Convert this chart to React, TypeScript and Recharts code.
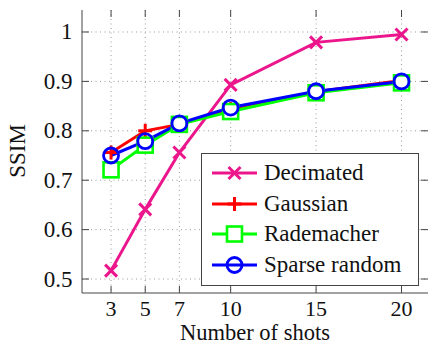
import React from 'react';
import { LineChart, Line, XAxis, YAxis, CartesianGrid } from 'recharts';

// values
const shots = [3, 5, 7, 10, 15, 20];
const decimated = [0.517, 0.641, 0.756, 0.893, 0.979, 0.995];
const gaussian = [0.756, 0.8, 0.813, 0.844, 0.879, 0.902];
const rademacher = [0.721, 0.771, 0.813, 0.839, 0.877, 0.897];
const sparseRandom = [0.75, 0.779, 0.815, 0.847, 0.88, 0.9];
const xTicks = [3, 5, 7, 10, 15, 20];
const yTicks = [0.5, 0.6, 0.7, 0.8, 0.9, 1];

const data = shots.map((s, i) => ({
  shots: s,
  decimated: decimated[i],
  gaussian: gaussian[i],
  rademacher: rademacher[i],
  sparse: sparseRandom[i],
}));

const FONT = '"Liberation Serif", "DejaVu Serif", serif';
const PLOT = { left: 82, right: 428, top: 10, bottom: 293 };
const TICK_LEN = 7;
const AXIS_COLOR = '#444';

const PINK = '#ec168c';
const RED = '#ff0000';
const GREEN = '#00ff00';
const BLUE = '#0000ff';

type MarkerKind = 'x' | 'plus' | 'square' | 'circle';

const Marker = ({ kind, cx, cy, color }: { kind: MarkerKind; cx: number; cy: number; color: string }) => {
  if (kind === 'x') {
    const r = 6;
    return (
      <g stroke={color} strokeWidth={3}>
        <line x1={cx - r} y1={cy - r} x2={cx + r} y2={cy + r} />
        <line x1={cx - r} y1={cy + r} x2={cx + r} y2={cy - r} />
      </g>
    );
  }
  if (kind === 'plus') {
    const r = 7;
    return (
      <g stroke={color} strokeWidth={3}>
        <line x1={cx - r} y1={cy} x2={cx + r} y2={cy} />
        <line x1={cx} y1={cy - r} x2={cx} y2={cy + r} />
      </g>
    );
  }
  if (kind === 'square') {
    const r = 7.5;
    return <rect x={cx - r} y={cy - r} width={2 * r} height={2 * r} fill="white" stroke={color} strokeWidth={2.6} />;
  }
  return <circle cx={cx} cy={cy} r={7.5} fill="none" stroke={color} strokeWidth={2.8} />;
};

const makeDot = (kind: MarkerKind, color: string) => (props: any) => {
  const { cx, cy, index } = props;
  if (cx == null || cy == null) return <g key={`${kind}-${index}`} />;
  return (
    <g key={`${kind}-${index}`}>
      <Marker kind={kind} cx={cx} cy={cy} color={color} />
    </g>
  );
};

const XTick = (props: any) => {
  const { x, payload } = props;
  return (
    <g>
      <line x1={x} x2={x} y1={PLOT.bottom} y2={PLOT.bottom - TICK_LEN} stroke={AXIS_COLOR} />
      <line x1={x} x2={x} y1={PLOT.top} y2={PLOT.top + TICK_LEN} stroke={AXIS_COLOR} />
      <text x={x} y={315.5} textAnchor="middle" fontFamily={FONT} fontSize={22} fill="#111">
        {payload.value}
      </text>
    </g>
  );
};

const YTick = (props: any) => {
  const { y, payload } = props;
  return (
    <g>
      <line x1={PLOT.left} x2={PLOT.left + TICK_LEN} y1={y} y2={y} stroke={AXIS_COLOR} />
      <line x1={PLOT.right} x2={PLOT.right - TICK_LEN} y1={y} y2={y} stroke={AXIS_COLOR} />
      <text x={PLOT.left - 9.5} y={y + 7.5} textAnchor="end" fontFamily={FONT} fontSize={23} fill="#111">
        {String(payload.value)}
      </text>
    </g>
  );
};

const series = [
  { key: 'decimated', name: 'Decimated', color: PINK, kind: 'x' as MarkerKind },
  { key: 'gaussian', name: 'Gaussian', color: RED, kind: 'plus' as MarkerKind },
  { key: 'rademacher', name: 'Rademacher', color: GREEN, kind: 'square' as MarkerKind },
  { key: 'sparse', name: 'Sparse random', color: BLUE, kind: 'circle' as MarkerKind },
];

const LegendBox = () => (
  <div
    style={{
      position: 'absolute',
      left: 201,
      top: 153,
      width: 218,
      height: 133,
      boxSizing: 'border-box',
      border: `1px solid ${AXIS_COLOR}`,
      background: 'white',
    }}
  >
    {series.map((s, i) => (
      <div
        key={s.key}
        style={{
          position: 'absolute',
          left: 0,
          top: 4 + i * 30.6,
          height: 30,
          display: 'flex',
          alignItems: 'center',
        }}
      >
        <svg width={60} height={30} style={{ display: 'block' }}>
          <line x1={10} x2={55} y1={15} y2={15} stroke={s.color} strokeWidth={3} />
          <Marker kind={s.kind} cx={32.5} cy={15} color={s.color} />
        </svg>
        <span
          style={{
            marginLeft: 2,
            fontFamily: FONT,
            fontSize: 23,
            color: '#111',
            lineHeight: '30px',
            whiteSpace: 'nowrap',
          }}
        >
          {s.name}
        </span>
      </div>
    ))}
  </div>
);

export default function App() {
  return (
    <div style={{ position: 'absolute', left: 0, top: 0, width: 430, height: 345, background: 'white' }}>
      <LineChart
        width={430}
        height={345}
        data={data}
        margin={{ top: PLOT.top, right: 430 - PLOT.right, left: 0, bottom: 0 }}
      >
        <CartesianGrid
          stroke="#9a9a9a"
          strokeDasharray="1 3.5"
          horizontalValues={yTicks}
          verticalValues={xTicks}
        />
        <XAxis
          dataKey="shots"
          type="number"
          domain={[1.3, 21.55]}
          ticks={xTicks}
          height={345 - PLOT.bottom}
          tickSize={0}
          tickLine={false}
          axisLine={{ stroke: AXIS_COLOR }}
          tick={<XTick />}
          interval={0}
          allowDataOverflow
          label={{
            value: 'Number of shots',
            position: 'insideBottom',
            content: () => (
              <text x={(PLOT.left + PLOT.right) / 2} y={340} textAnchor="middle" fontFamily={FONT} fontSize={22.5} fill="#111">
                Number of shots
              </text>
            ),
          }}
        />
        <YAxis
          type="number"
          domain={[0.4717, 1.0445]}
          ticks={yTicks}
          width={PLOT.left}
          tickSize={0}
          tickLine={false}
          axisLine={{ stroke: AXIS_COLOR }}
          tick={<YTick />}
          interval={0}
          allowDataOverflow
          label={{
            value: 'SSIM',
            position: 'insideLeft',
            content: () => (
              <text
                x={25}
                y={151}
                transform="rotate(-90 25 151)"
                textAnchor="middle"
                fontFamily={FONT}
                fontSize={23}
                fill="#111"
              >
                SSIM
              </text>
            ),
          }}
        />
        {/* frame: top and right edges */}
        <XAxis xAxisId="top" orientation="top" type="number" domain={[1.3, 21.55]} height={0} tick={false} tickLine={false} axisLine={{ stroke: AXIS_COLOR }} />
        <YAxis yAxisId="right" orientation="right" type="number" domain={[0.4717, 1.0445]} width={0} tick={false} tickLine={false} axisLine={{ stroke: AXIS_COLOR }} />
        {series.map((s) => (
          <Line
            key={s.key}
            type="linear"
            dataKey={s.key}
            name={s.name}
            stroke={s.color}
            strokeWidth={3}
            dot={makeDot(s.kind, s.color)}
            activeDot={false}
            isAnimationActive={false}
          />
        ))}
      </LineChart>
      <LegendBox />
    </div>
  );
}
